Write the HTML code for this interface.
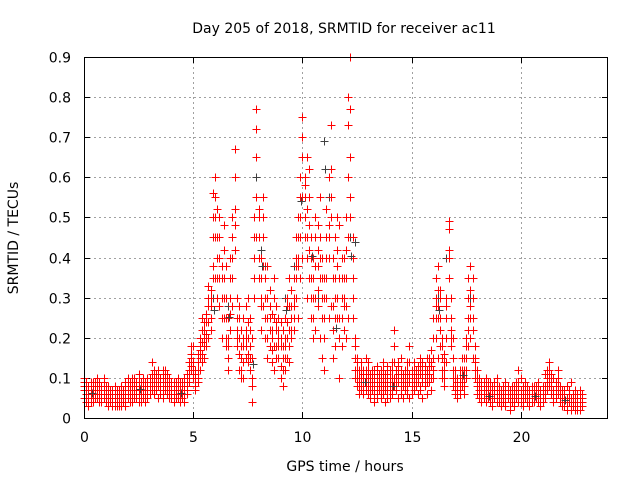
<!DOCTYPE html>
<html><head><meta charset="utf-8"><style>
html,body{margin:0;padding:0;background:#fff;}
svg{display:block;font-family:"DejaVu Sans","Liberation Sans",sans-serif;}
</style></head><body>
<svg id="chart" width="640" height="480" viewBox="0 0 640 480" xmlns="http://www.w3.org/2000/svg">
<rect width="640" height="480" fill="#fff"/>
<text x="344" y="33" font-size="14" text-anchor="middle">Day 205 of 2018, SRMTID for receiver ac11</text>
<text x="345" y="471" font-size="14" text-anchor="middle">GPS time / hours</text>
<text x="0" y="0" font-size="14" text-anchor="middle" transform="translate(18,238) rotate(-90)">SRMTID / TECUs</text>
<g id="grid"></g>
<g id="ticks"></g>
<g id="marks"></g>
<rect x="84.5" y="57.5" width="523" height="361" fill="none" stroke="#000" stroke-width="1"/>
</svg>
<script>
const xTicks = [0, 5, 10, 15, 20];
const yTicks = [0, 0.1, 0.2, 0.3, 0.4, 0.5, 0.6, 0.7, 0.8, 0.9];
const yTickLabels = ["0","0.1","0.2","0.3","0.4","0.5","0.6","0.7","0.8","0.9"];
const startHour = 0;
const stepHour = 0.1;
const valsA = [.08,.06,.05,.09,.07,.06,.10,.05,.07,.08, .06,.05,.04,.07,.05,.06,.04,.05,.07,.06, .07,.09,.08,.10,.06,.07,.09,.08,.06,.10, .08,.14,.10,.09,.11,.07,.08,.12,.09,.08, .07,.06,.09,.08,.06,.07,.10,.11,.14,.12, .10,.08,.12,.15,.19,.18,.24,.28,.32,.45, .60,.52,.40,.30,.48,.38,.20,.30,.45,.60, .25,.20,.15,.18,.22,.30,.12,.08,.35,.55, .50,.40,.45,.30,.25,.18,.20,.30,.22,.15, .10,.15,.25,.20,.28,.32,.22,.45,.40,.55, .70,.60,.45,.55,.35,.40,.50,.32,.45,.25, .30,.45,.60,.73,.35,.25,.50,.20,.40,.35, .50,.73,.90,.45,.20,.15,.12,.10,.08,.12, .10,.08,.12,.06,.09,.11,.08,.10,.07,.09, .08,.10,.22,.12,.09,.10,.08,.12,.10,.09, .08,.10,.12,.09,.11,.10,.13,.12,.15,.10, .15,.30,.38,.25,.15,.12,.20,.47,.30,.15, .08,.06,.10,.12,.08,.15,.25,.38,.30,.18, .10,.08,.07,.09,.06,.08,.07,.06,.09,.07, .06,.05,.08,.06,.07,.05,.06,.08,.07,.09, .06,.05,.07,.06,.05,.07,.06,.08,.06,.05, .06,.08,.10,.14,.09,.07,.08,.10,.06,.05, .05,.04,.06,.05,.04,.03,.06,.05,.04];
const valsB = [.05,.04,.07,.06,.04,.08,.06,.04,.05,.06, .04,.03,.06,.04,.03,.05,.03,.04,.05,.03, .05,.06,.04,.07,.05,.04,.06,.05,.04,.07, .06,.09,.06,.07,.05,.06,.05,.07,.06,.05, .05,.04,.05,.06,.04,.05,.06,.07,.09,.15, .14,.07,.09,.12,.14,.22,.18,.20,.25,.38, .55,.45,.28,.20,.35,.25,.15,.22,.50,.42, .18,.28,.10,.25,.15,.20,.18,.04,.45,.72, .35,.30,.55,.20,.38,.25,.14,.35,.18,.25, .18,.22,.12,.30,.14,.20,.35,.30,.50,.60, .75,.50,.65,.42,.30,.25,.38,.28,.20,.40, .20,.35,.25,.55,.15,.45,.30,.48,.18,.28, .35,.80,.77,.30,.15,.08,.10,.14,.06,.09, .06,.05,.07,.04,.05,.07,.05,.06,.04,.05, .05,.06,.08,.07,.05,.06,.05,.07,.06,.05, .06,.07,.08,.06,.07,.05,.08,.06,.09,.07, .10,.20,.28,.18,.10,.08,.14,.49,.22,.10, .06,.05,.07,.09,.06,.20,.35,.28,.22,.12, .06,.05,.04,.06,.04,.05,.04,.03,.05,.04, .04,.03,.04,.03,.05,.02,.04,.03,.05,.04, .04,.03,.05,.04,.03,.05,.04,.05,.04,.03, .04,.05,.07,.10,.06,.04,.05,.06,.04,.03, .03,.02,.04,.02,.03,.02,.03,.02,.03];
const valsC = [.10,.09,.03,.04,.06,.05,.08,.09,.04,.10, .07,.08,.05,.03,.08,.04,.06,.08,.04,.09, .10,.04,.10,.05,.09,.11,.04,.10,.08,.05, .10,.07,.12,.11,.08,.10,.12,.09,.11,.10, .09,.08,.07,.10,.08,.09,.04,.08,.12,.18, .18,.11,.16,.20,.25,.15,.26,.33,.30,.56, .35,.30,.50,.38,.25,.18,.12,.40,.35,.67, .30,.12,.22,.10,.28,.16,.25,.15,.40,.77, .45,.22,.28,.38,.15,.32,.26,.12,.28,.20, .24,.08,.18,.15,.35,.25,.28,.38,.25,.45, .40,.55,.30,.62,.25,.35,.22,.48,.55,.15, .12,.52,.40,.28,.22,.18,.38,.10,.30,.22, .20,.25,.55,.40,.10,.12,.06,.07,.12,.15, .14,.11,.09,.10,.13,.08,.12,.14,.11,.13, .12,.14,.18,.09,.13,.15,.11,.10,.14,.18, .12,.14,.10,.13,.15,.12,.10,.15,.13,.17, .25,.35,.15,.32,.20,.16,.28,.35,.18,.08, .12,.10,.08,.15,.12,.10,.18,.20,.15,.10, .12,.10,.09,.08,.10,.06,.09,.08,.07,.10, .08,.07,.06,.09,.05,.07,.08,.06,.09,.12, .10,.08,.09,.08,.07,.06,.08,.07,.09,.07, .08,.11,.12,.08,.11,.10,.06,.12,.08,.07, .07,.08,.05,.09,.06,.07,.04,.07,.06];
const valsD = [.07,.08,.06,.05,.09,.07,.05,.07,.06,.09, .05,.07,.05,.06,.04,.07,.05,.06,.06,.05, .08,.07,.06,.09,.08,.06,.08,.07,.09,.08, .09,.11,.08,.10,.09,.08,.10,.10,.08,.09, .08,.07,.06,.07,.09,.08,.07,.09,.10,.16, .12,.10,.14,.18,.22,.20,.21,.24,.28,.50, .45,.40,.35,.25,.42,.30,.18,.26,.40,.52, .22,.16,.18,.14,.20,.24,.15,.10,.50,.65, .40,.35,.50,.25,.30,.22,.17,.25,.24,.18, .13,.12,.20,.24,.22,.28,.30,.40,.45,.50, .65,.58,.52,.48,.40,.30,.45,.38,.35,.30, .25,.40,.48,.62,.28,.35,.42,.25,.35,.30, .42,.60,.65,.35,.18,.10,.08,.12,.10,.10, .08,.10,.09,.08,.11,.09,.10,.08,.09,.11, .10,.08,.14,.10,.11,.08,.10,.09,.12,.11, .10,.09,.11,.10,.13,.09,.11,.10,.12,.13, .20,.25,.32,.22,.18,.10,.25,.40,.25,.12, .10,.08,.06,.10,.10,.12,.30,.32,.25,.15, .08,.07,.06,.07,.08,.07,.06,.05,.07,.06, .05,.06,.05,.07,.06,.04,.05,.07,.06,.08, .05,.06,.06,.07,.06,.04,.07,.06,.07,.06, .05,.07,.08,.12,.08,.06,.07,.08,.05,.06, .04,.05,.05,.04,.05,.04,.05,.04,.05];
const valsE = [.09,.05,.08,.07,.05,.09,.07,.06,.08,.05, .08,.04,.07,.05,.06,.03,.07,.03,.05,.07, .06,.08,.09,.06,.07,.09,.05,.09,.07,.06, .07,.10,.09,.08,.12,.09,.07,.11,.10,.07, .06,.09,.08,.05,.07,.06,.08,.06,.11,.13, .11,.12,.10,.17,.16,.24,.20,.30,.22,.35, .50,.35,.45,.35,.30,.20,.25,.35,.28,.48, .20,.25,.12,.20,.18,.14,.22,.20,.30,.45, .52,.28,.38,.35,.20,.28,.22,.18,.15,.22, .20,.18,.15,.28,.18,.22,.25,.35,.38,.35, .55,.45,.40,.35,.45,.20,.30,.42,.40,.35, .35,.30,.45,.50,.40,.30,.25,.35,.25,.40, .28,.45,.50,.25,.12,.14,.09,.08,.11,.07, .12,.06,.10,.12,.07,.10,.06,.12,.10,.07, .07,.12,.10,.08,.14,.12,.09,.11,.08,.14, .11,.12,.09,.11,.08,.14,.12,.09,.11,.14, .12,.28,.25,.30,.12,.14,.30,.42,.20,.20, .07,.09,.12,.08,.15,.18,.22,.25,.35,.14, .09,.06,.08,.05,.07,.09,.05,.07,.06,.08, .07,.04,.06,.05,.08,.06,.07,.05,.08,.06, .07,.04,.08,.05,.06,.08,.05,.06,.08,.04, .07,.06,.09,.11,.10,.05,.09,.07,.07,.04, .06,.03,.07,.03,.05,.05,.02,.06,.05];
const grayT = [0.3,1.2,2.5,3.6,4.4,5.3,5.9,6.2,6.6,7.1,7.7,7.9,8.1,8.4,9.2,9.6,9.9,10.1,10.4,10.7,11.0,11.2,11.5,11.8,12.2,12.4,12.8,13.3,14.1,15.4,16.2,16.6,17.3,17.7,18.5,19.4,20.6,21.3,22.0,22.5];
const grayV = [0.07,0.05,0.08,0.09,0.07,0.15,0.30,0.45,0.28,0.20,0.15,0.60,0.42,0.25,0.30,0.38,0.60,0.55,0.45,0.30,0.69,0.55,0.25,0.18,0.45,0.44,0.10,0.07,0.09,0.08,0.30,0.40,0.12,0.30,0.06,0.05,0.06,0.09,0.05,0.04];

const NS='http://www.w3.org/2000/svg';
const X0=84, X1=608, Y0=418, Y1=57, XMAX=24, YMAX=0.9;
function xs(h){return X0+(X1-X0)*h/XMAX;}
function ys(v){return Y0-(Y0-Y1)*v/YMAX;}
const grid=document.getElementById('grid'), ticks=document.getElementById('ticks'), marks=document.getElementById('marks');
function mk(tag,attrs,parent){const e=document.createElementNS(NS,tag);for(const k in attrs)e.setAttribute(k,attrs[k]);parent.appendChild(e);return e;}
yTicks.forEach((v,i)=>{
  const y=Math.round(ys(v))+0.5;
  if(i>0&&i<yTicks.length-1){const g=mk('line',{x1:X0,x2:X1,y1:y,y2:y,stroke:'#a0a0a0','stroke-dasharray':'2,3'},grid);
  
  }
  const t=mk('line',{x1:X0,x2:X0+6,y1:y,y2:y,stroke:'#000'},ticks);
  
  
  const t2=mk('line',{x1:X1-6,x2:X1,y1:y,y2:y,stroke:'#000'},ticks);
  
  
  const l=mk('text',{x:X0-13,y:y+5,'font-size':14,'text-anchor':'end'},ticks);l.textContent=yTickLabels[i];
  
  
});
xTicks.forEach(h=>{
  const x=Math.round(xs(h))+0.5;
  if(h>0){const g=mk('line',{x1:x,x2:x,y1:Y1,y2:Y0,stroke:'#a0a0a0','stroke-dasharray':'2,3'},grid);
  
  }
  const t=mk('line',{x1:x,x2:x,y1:Y0-6,y2:Y0,stroke:'#000'},ticks);
  
  
  const t2=mk('line',{x1:x,x2:x,y1:Y1,y2:Y1+6,stroke:'#000'},ticks);
  
  
  const l=mk('text',{x:x,y:Y0+24,'font-size':14,'text-anchor':'middle'},ticks);l.textContent=String(h);
  
  
});
function plus(h,v,color,name){
  const x=Math.round(xs(h))+0.5, y=Math.round(ys(v))+0.5;
  const p=mk('path',{d:`M${x-4} ${y}h8M${x} ${y-4}v8`,stroke:color,'stroke-width':1,fill:'none'},marks);
  
  
}
grayT.forEach((h,i)=>plus(h,grayV[i],'#404040','srmtid-point-alt'));
[valsA,valsB,valsC,valsD,valsE].forEach(arr=>arr.forEach((v,i)=>plus(startHour+i*stepHour,v,'#ff0000','srmtid-point')));
grayT.forEach((h,i)=>{ if(i%2===0) plus(h+0.05,grayV[i]*0.9,'#404040','srmtid-point-alt'); });
</script>
</body></html>
